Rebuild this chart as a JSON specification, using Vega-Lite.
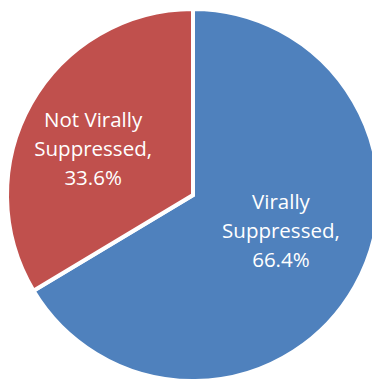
{
  "$schema": "https://vega.github.io/schema/vega-lite/v6.json",
  "width": 372,
  "height": 379,
  "autosize": {"type": "fit", "contains": "padding"},
  "padding": {"left": 14, "top": 11, "right": 0, "bottom": 0},
  "background": "white",
  "data": {"values": [
    {"name": "Virally Suppressed", "value": 66.4, "label": "Virally\nSuppressed,\n66.4%"},
    {"name": "Not Virally Suppressed", "value": 33.6, "label": "Not Virally\nSuppressed,\n33.6%"}
  ]},
  "encoding": {
    "theta": {"field": "value", "type": "quantitative", "stack": true},
    "order": {"field": "value", "sort": "descending"}
  },
  "layer": [
    {
      "mark": {"type": "arc", "radius": 186, "stroke": "white", "strokeWidth": 4},
      "encoding": {
        "color": {"field": "name", "type": "nominal", "legend": null,
          "scale": {"domain": ["Virally Suppressed", "Not Virally Suppressed"], "range": ["#4F81BD", "#C0504D"]}}
      }
    },
    {
      "mark": {"type": "text", "radius": 93, "dx": 7, "dy": -38, "fill": "white", "font": "Open Sans", "fontSize": 20.5, "lineBreak": "\n", "lineHeight": 29, "align": "center", "baseline": "middle"},
      "encoding": {
        "text": {"condition": {"test": "datum.name === 'Virally Suppressed'", "field": "label"}, "value": ""}
      }
    },
    {
      "mark": {"type": "text", "radius": 109, "dx": -5, "dy": -20, "fill": "white", "font": "Open Sans", "fontSize": 20.5, "lineBreak": "\n", "lineHeight": 29, "align": "center", "baseline": "middle"},
      "encoding": {
        "text": {"condition": {"test": "datum.name === 'Not Virally Suppressed'", "field": "label"}, "value": ""}
      }
    }
  ],
  "config": {"view": {"stroke": null}}
}
